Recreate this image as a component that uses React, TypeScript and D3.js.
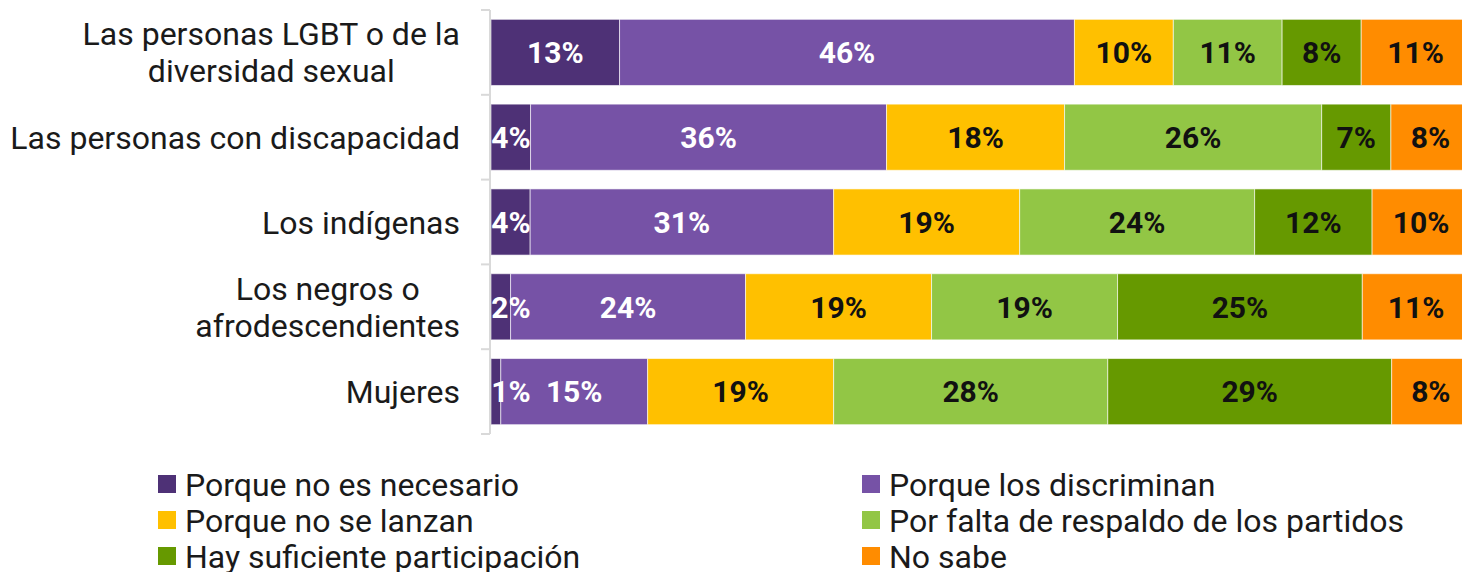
import React, { useEffect, useRef } from "react";
import * as d3 from "d3";

const categories = [
  "Las personas LGBT o de la\ndiversidad sexual",
  "Las personas con discapacidad",
  "Los indígenas",
  "Los negros o\nafrodescendientes",
  "Mujeres",
];
const seriesNames = [
  "Porque no es necesario",
  "Porque los discriminan",
  "Porque no se lanzan",
  "Por falta de respaldo de los partidos",
  "Hay suficiente participación",
  "No sabe",
];
const noNecesario = [13, 4, 4, 2, 1];
const discriminan = [46, 36, 31, 24, 15];
const noSeLanzan = [10, 18, 19, 19, 19];
const faltaRespaldo = [11, 26, 24, 19, 28];
const suficiente = [8, 7, 12, 25, 29];
const noSabe = [11, 8, 10, 11, 8];

const colors = ["#4e3176", "#7652a6", "#ffc000", "#92c645", "#669900", "#ff8c00"];
const labelColors = ["#ffffff", "#ffffff", "#111111", "#111111", "#111111", "#111111"];

const W = 1462;
const H = 572;
const FONT = "Roboto, sans-serif";

export default function App() {
  const ref = useRef<SVGSVGElement | null>(null);

  useEffect(() => {
    const svg = d3.select(ref.current);
    svg.selectAll("*").remove();

    const seriesValues = [noNecesario, discriminan, noSeLanzan, faltaRespaldo, suficiente, noSabe];
    const rows = categories.map((c, i) => {
      const r: any = { cat: c };
      seriesNames.forEach((s, j) => (r[s] = seriesValues[j][i]));
      return r;
    });

    const stack = d3.stack<any>().keys(seriesNames).offset(d3.stackOffsetExpand);
    const stacked = stack(rows);

    const left = 491;
    const x = d3.scaleLinear().domain([0, 1]).range([left, 1470]);
    const y = d3.scaleBand<string>().domain(categories).range([10, 434]).paddingInner(0.22).paddingOuter(0.11);

    svg.append("defs").append("clipPath").attr("id", "plotClip")
      .append("rect").attr("x", left).attr("y", 0).attr("width", W - left).attr("height", 440);

    const axisG = svg.append("g");
    axisG.append("line").attr("x1", 490).attr("x2", 490).attr("y1", 10).attr("y2", 434)
      .attr("stroke", "#d9d9d9").attr("stroke-width", 2);
    const step = y.step();
    const tickYs = d3.range(categories.length + 1).map((i) => 10 + i * step);
    axisG.selectAll("line.tick").data(tickYs).enter().append("line")
      .attr("x1", 481).attr("x2", 490).attr("y1", (d) => d).attr("y2", (d) => d)
      .attr("stroke", "#d9d9d9").attr("stroke-width", 2);

    const plot = svg.append("g").attr("clip-path", "url(#plotClip)");
    stacked.forEach((layer, j) => {
      const g = plot.append("g");
      g.selectAll("rect").data(layer).enter().append("rect")
        .attr("x", (d) => x(d[0]))
        .attr("y", (d) => y(d.data.cat) as number)
        .attr("width", (d) => x(d[1]) - x(d[0]))
        .attr("height", y.bandwidth())
        .attr("fill", colors[j])
        .attr("stroke", "#ffffff")
        .attr("stroke-opacity", 0.6)
        .attr("stroke-width", 1);
    });
    stacked.forEach((layer, j) => {
      const g = plot.append("g");
      g.selectAll("text").data(layer).enter().append("text")
        .attr("x", (d) => Math.max((x(d[0]) + x(d[1])) / 2, left + 20))
        .attr("y", (d) => (y(d.data.cat) as number) + y.bandwidth() / 2)
        .attr("dy", "0.36em")
        .attr("text-anchor", "middle")
        .attr("font-family", FONT)
        .attr("font-weight", "bold")
        .attr("font-size", 30)
        .attr("fill", labelColors[j])
        .text((d) => `${d.data[seriesNames[j]]}%`);
    });

    const catG = svg.append("g");
    categories.forEach((c) => {
      const lines = c.split("\n");
      const cy = (y(c) as number) + y.bandwidth() / 2;
      const lh = 37;
      const t = catG.append("text")
        .attr("font-family", FONT).attr("font-size", 32).attr("fill", "#1a1a1a");
      const tspans = lines.map((ln, i) =>
        t.append("tspan").attr("y", cy + (i - (lines.length - 1) / 2) * lh).attr("dy", "0.36em").text(ln)
      );
      const widths = tspans.map((ts) => (ts.node() as SVGTSpanElement).getComputedTextLength());
      const maxW = Math.max(...widths);
      const right = 460;
      if (lines.length === 1) {
        tspans[0].attr("x", right).attr("text-anchor", "end");
      } else {
        tspans.forEach((ts) => ts.attr("x", right - maxW / 2).attr("text-anchor", "middle"));
      }
    });

    const legG = svg.append("g");
    seriesNames.forEach((s, j) => {
      const col = j % 2;
      const row = Math.floor(j / 2);
      const lx = col === 0 ? 158 : 862;
      const ly = 484 + row * 36;
      legG.append("rect").attr("x", lx).attr("y", ly - 9).attr("width", 18).attr("height", 18).attr("fill", colors[j]);
      legG.append("text").attr("x", lx + 27).attr("y", ly).attr("dy", "0.36em")
        .attr("font-family", FONT).attr("font-size", 32).attr("fill", "#1a1a1a").text(s);
    });
  }, []);

  return (
    <svg ref={ref} width={W} height={H} style={{ position: "absolute", left: 0, top: 0, background: "#ffffff" }} />
  );
}
